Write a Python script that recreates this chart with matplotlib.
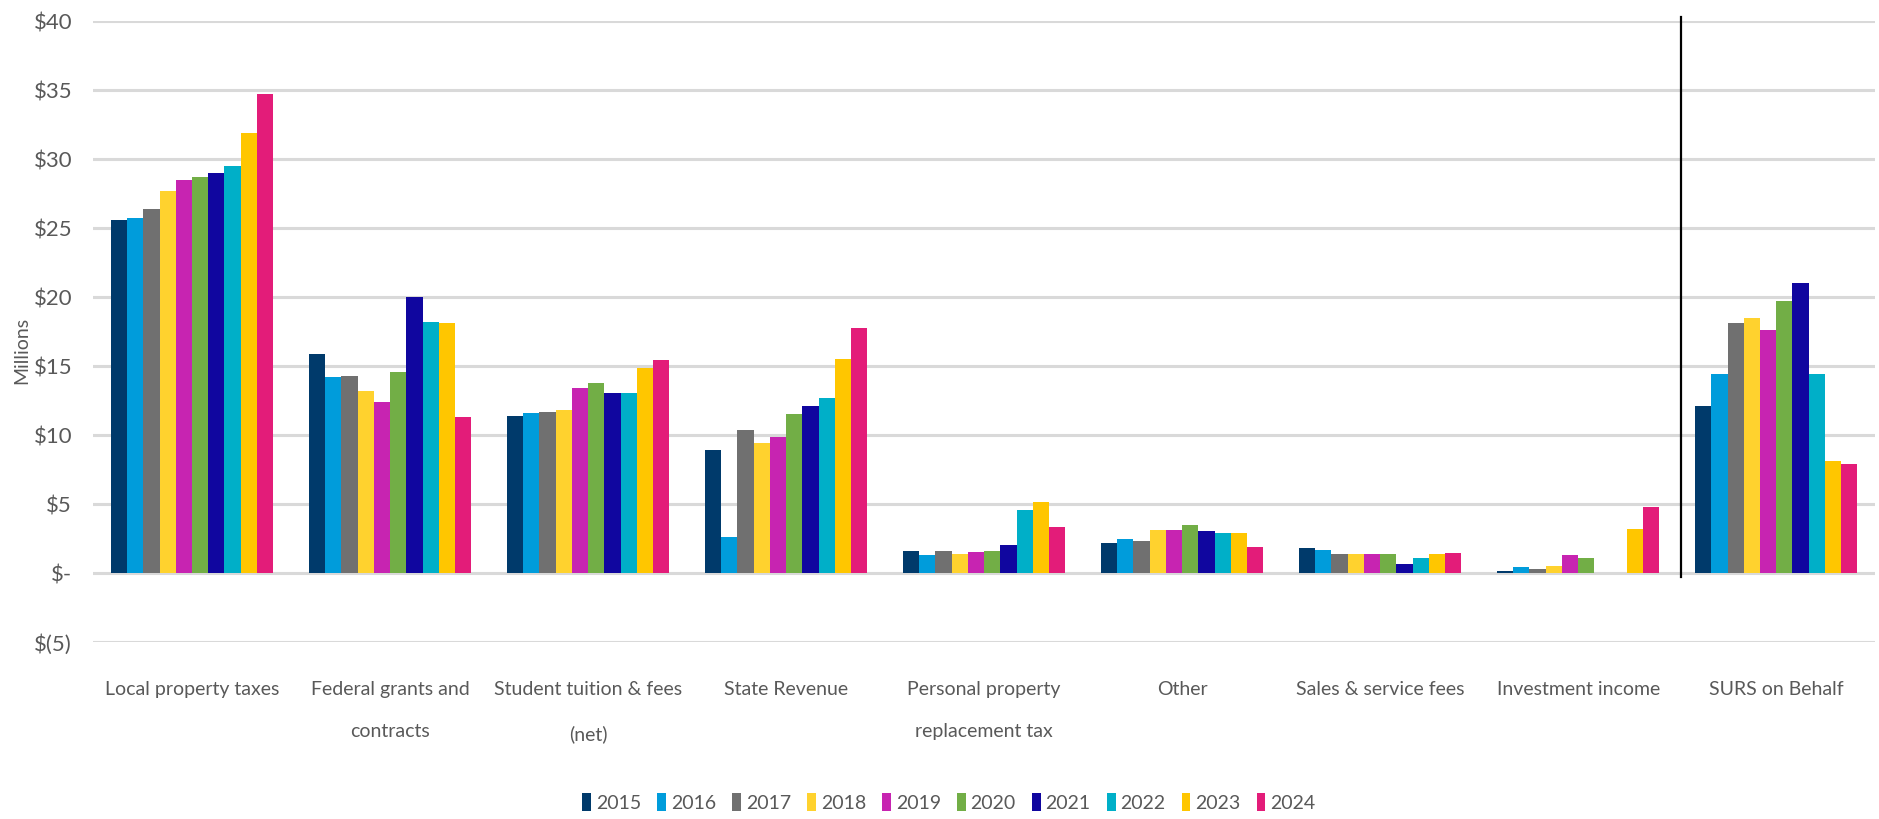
#%%############################################################################
# Revenue by source, fiscal years 2015-2024 (clustered bars, $ millions).
###############################################################################
import numpy as np
import matplotlib.pyplot as plt
from matplotlib.ticker import FuncFormatter

#%%############################################################################
# Data.
###############################################################################
categories = ['Local property taxes', 'Federal grants and\ncontracts',
              'Student tuition & fees\n(net)', 'State Revenue',
              'Personal property\nreplacement tax', 'Other',
              'Sales & service fees', 'Investment income', 'SURS on Behalf']
years = ['2015', '2016', '2017', '2018', '2019', '2020', '2021', '2022', '2023', '2024']

# one list per category, one value per year (millions)
localProperty = [25.6, 25.75, 26.4, 27.7, 28.5, 28.7, 29.0, 29.5, 31.9, 34.75]
federalGrants = [15.9, 14.2, 14.3, 13.2, 12.4, 14.6, 20.05, 18.2, 18.1, 11.3]
studentTuition = [11.4, 11.6, 11.7, 11.8, 13.4, 13.75, 13.05, 13.05, 14.9, 15.45]
stateRevenue = [8.95, 2.6, 10.4, 9.4, 9.85, 11.55, 12.1, 12.7, 15.55, 17.75]
personalProperty = [1.6, 1.3, 1.6, 1.4, 1.5, 1.6, 2.05, 4.6, 5.15, 3.35]
other = [2.15, 2.45, 2.35, 3.15, 3.15, 3.5, 3.05, 2.9, 2.9, 1.9]
salesService = [1.8, 1.65, 1.35, 1.35, 1.35, 1.35, 0.65, 1.1, 1.35, 1.45]
investmentIncome = [0.17, 0.43, 0.29, 0.55, 1.33, 1.11, 0.0, 0.0, 3.18, 4.77]
sursOnBehalf = [12.1, 14.4, 18.1, 18.5, 17.6, 19.75, 21.0, 14.4, 8.1, 7.9]

colors = ['#003A6B', '#009CDB', '#707070', '#FFD22E', '#C724B1',
          '#72AE46', '#10069F', '#00AFC8', '#FFC600', '#E31C79']

values = np.array([localProperty, federalGrants, studentTuition, stateRevenue,
                   personalProperty, other, salesService, investmentIncome,
                   sursOnBehalf])

#%%############################################################################
# Plot.
###############################################################################
plt.rcParams['font.family'] = ['Lato', 'DejaVu Sans']
textColor = '#595959'

fig = plt.figure(figsize=(18.79, 8.19), dpi=100)
ax = fig.add_axes([0.0495, 0.216, 0.9485, 0.758])

nYears = len(years)
groupWidth = 0.82
barWidth = groupWidth / nYears
x = np.arange(len(categories))
for i in range(nYears):
    offset = -groupWidth / 2 + barWidth * (i + 0.5)
    ax.bar(x + offset, values[:, i], barWidth, color=colors[i], label=years[i], zorder=3)

# separator in front of the on-behalf payments
ax.plot([7.52, 7.52], [-0.3, 40.3], color='black', lw=1.6, zorder=4, clip_on=False)

ax.set_xlim(-0.5, len(categories) - 0.5)
ax.set_ylim(-5, 40)
ax.set_yticks(np.arange(-5, 41, 5))

def dollars(v, pos):
    if v == 0:
        return '$-'
    if v < 0:
        return '$(%d)' % abs(v)
    return '$%d' % v

ax.yaxis.set_major_formatter(FuncFormatter(dollars))
ax.grid(axis='y', color='#D9D9D9', lw=2.2, zorder=0)
for s in ax.spines.values():
    s.set_visible(False)
ax.tick_params(axis='both', length=0, colors=textColor)
ax.tick_params(axis='x', pad=28, labelsize=14)
ax.tick_params(axis='y', pad=15, labelsize=16)
ax.set_xticks(x)
ax.set_xticklabels(categories, linespacing=2.8, va='top')
ax.set_ylabel('Millions', color=textColor, fontsize=14)
ax.yaxis.set_label_coords(-0.035, 0.47)

leg = fig.legend(loc='center', bbox_to_anchor=(0.505, 0.02), ncol=nYears, frameon=False,
                 fontsize=14, handlelength=0.45, handleheight=1.0, handletextpad=0.25,
                 columnspacing=0.83)
for t in leg.get_texts():
    t.set_color(textColor)

fig.savefig('out.png', dpi=100)
